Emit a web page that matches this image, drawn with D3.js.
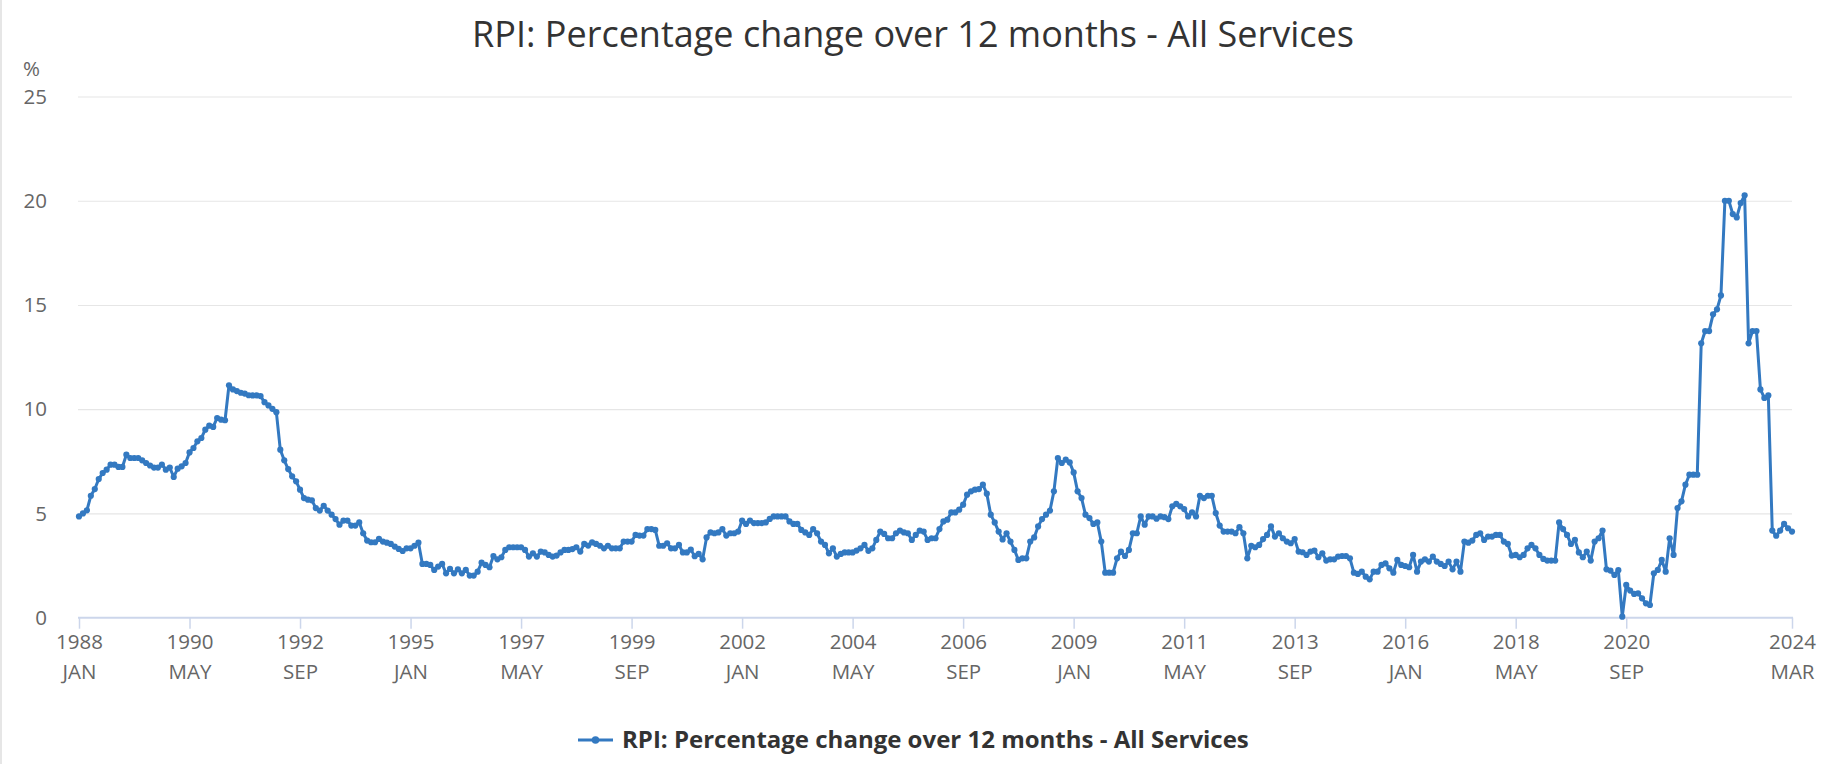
<!DOCTYPE html>
<html><head><meta charset="utf-8">
<script src="https://cdn.jsdelivr.net/npm/d3@7"></script>
<style>
html,body{margin:0;padding:0;background:#fff;}
svg{display:block;font-family:"Open Sans",sans-serif;}
</style></head>
<body>
<svg id="chart" width="1824" height="764"></svg>
<script>
// ---- data ----
const chartTitle = "RPI: Percentage change over 12 months - All Services";
const seriesName = "RPI: Percentage change over 12 months - All Services";
const startYear = 1988;
const monthNames = ["JAN","FEB","MAR","APR","MAY","JUN","JUL","AUG","SEP","OCT","NOV","DEC"];
const values = [
4.86,5.0,5.15,5.85,6.17,6.65,6.94,7.1,7.34,7.34,7.23,7.23,7.82,7.66,7.66,7.66,7.55,7.42,7.3,7.2,7.2,7.34,7.1,7.2,6.75,7.15,7.26,7.42,7.93,8.14,8.46,8.62,9.02,9.21,9.15,9.58,9.5,9.47,11.15,
10.95,10.87,10.79,10.75,10.67,10.66,10.66,10.63,10.34,10.18,10.02,9.86,8.06,7.55,7.13,6.78,6.54,6.14,5.74,5.66,5.63,5.26,5.14,5.37,5.14,4.94,4.73,4.46,4.66,4.66,4.42,4.42,4.57,4.05,3.7,3.62,3.62,3.78,3.65,
3.6,3.54,3.41,3.3,3.2,3.33,3.33,3.45,3.6,2.58,2.58,2.53,2.29,2.45,2.58,2.13,2.34,2.13,2.32,2.13,2.29,2.02,2.02,2.21,2.64,2.53,2.42,2.96,2.8,2.9,3.25,3.38,3.38,3.38,3.38,3.25,2.93,3.09,2.93,3.17,
3.13,3.01,2.93,2.98,3.13,3.25,3.25,3.29,3.38,3.17,3.54,3.46,3.61,3.54,3.45,3.33,3.45,3.33,3.33,3.33,3.65,3.65,3.65,3.97,3.94,3.94,4.25,4.25,4.21,3.45,3.45,3.57,3.33,3.33,3.49,3.13,3.13,3.27,2.95,
3.06,2.8,3.85,4.09,4.05,4.09,4.25,3.94,4.05,4.05,4.13,4.66,4.5,4.66,4.54,4.54,4.54,4.57,4.74,4.86,4.86,4.86,4.86,4.62,4.5,4.5,4.21,4.09,3.97,4.25,4.05,3.65,3.49,3.09,3.33,2.93,3.06,3.13,3.13,
3.13,3.22,3.33,3.49,3.21,3.33,3.73,4.13,4.02,3.81,3.81,4.05,4.18,4.09,4.05,3.73,3.97,4.18,4.13,3.73,3.81,3.81,4.25,4.62,4.7,5.05,5.05,5.18,5.42,5.9,6.06,6.14,6.17,6.38,5.95,4.94,4.57,4.13,3.75,
4.05,3.65,3.25,2.77,2.85,2.85,3.65,3.85,4.38,4.73,4.94,5.14,6.06,7.66,7.42,7.58,7.45,6.97,6.06,5.74,4.94,4.78,4.5,4.57,3.65,2.16,2.16,2.16,2.85,3.17,2.96,3.25,4.05,4.05,4.86,4.46,4.86,4.86,4.75,4.86,
4.82,4.73,5.34,5.46,5.34,5.21,4.86,5.05,4.86,5.85,5.74,5.85,5.85,5.02,4.42,4.13,4.13,4.13,4.05,4.34,4.05,2.85,3.45,3.38,3.49,3.77,3.97,4.38,3.89,4.05,3.81,3.65,3.57,3.77,3.17,3.14,3.01,3.17,3.22,
2.9,3.09,2.74,2.8,2.8,2.93,2.96,2.96,2.85,2.16,2.1,2.21,1.97,1.84,2.21,2.21,2.53,2.61,2.37,2.16,2.77,2.53,2.48,2.42,3.01,2.21,2.69,2.8,2.69,2.93,2.69,2.58,2.48,2.69,2.32,2.69,2.21,3.65,3.6,
3.7,3.97,4.05,3.73,3.89,3.89,3.97,3.97,3.65,3.54,2.98,3.01,2.9,3.01,3.33,3.49,3.33,3.01,2.82,2.74,2.74,2.74,4.57,4.25,3.97,3.54,3.73,3.13,2.9,3.17,2.74,3.65,3.81,4.18,2.32,2.26,2.05,2.28,0.05,
1.57,1.3,1.14,1.17,0.93,0.69,0.61,2.13,2.29,2.77,2.21,3.81,3.01,5.26,5.58,6.38,6.86,6.86,6.86,13.16,13.75,13.75,14.55,14.79,15.46,20.0,20.0,19.36,19.2,19.89,20.26,13.16,13.75,13.75,10.95,10.54,10.66,4.18,3.93,4.18,4.5,4.29,4.13
];
const xTickLabels = ["1988 JAN","1990 MAY","1992 SEP","1995 JAN","1997 MAY","1999 SEP","2002 JAN","2004 MAY","2006 SEP","2009 JAN","2011 MAY","2013 SEP","2016 JAN","2018 MAY","2020 SEP","2024 MAR"];
const yTicks = [0,5,10,15,20,25];
const yUnit = "%";

// categories (one per month)
const categories = values.map((v,i)=> (startYear + Math.floor(i/12)) + " " + monthNames[i%12]);

// ---- layout ----
const W = 1824, H = 764;
const plot = {left:79, right:1792, top:96.5, bottom:617.7};
const svg = d3.select("#chart");

const x = d3.scalePoint().domain(categories).range([plot.left, plot.right]);
const y = d3.scaleLinear().domain([0,25]).range([plot.bottom, plot.top]);

// left border
svg.append("rect").attr("x",0).attr("y",0).attr("width",2).attr("height",H).attr("fill","#e6e6e6");

// title
svg.append("text").attr("x",W/2+1).attr("y",47).attr("text-anchor","middle")
  .attr("font-size",36).attr("fill","#333").text(chartTitle);

// gridlines
const yAxis = d3.axisLeft(y).tickValues(yTicks).tickSize(-(plot.right-plot.left+1)).tickPadding(31);
const gy = svg.append("g").attr("transform",`translate(${plot.left-1},0)`).call(yAxis);
gy.select(".domain").remove();
gy.selectAll(".tick line").attr("stroke","#e6e6e6").attr("stroke-width",1.2)
  .filter(d=>d===0).remove();
gy.selectAll(".tick text").attr("font-size",20.5).attr("fill","#666").attr("font-family","Open Sans");

svg.append("text").attr("x",23).attr("y",76).attr("font-size",20.5).attr("fill","#666").text(yUnit);

// x axis
const xAxis = d3.axisBottom(x).tickValues(xTickLabels).tickSize(11).tickFormat(()=> "");
const gx = svg.append("g").attr("transform",`translate(0,${plot.bottom})`).call(xAxis);
gx.select(".domain").attr("stroke","#ccd6eb").attr("stroke-width",2).attr("d",`M${plot.left-1},0H${plot.right+1}`);
gx.selectAll(".tick line").attr("stroke","#ccd6eb").attr("stroke-width",1.5);
gx.selectAll(".tick").each(function(d){
  const parts = d.split(" ");
  const t = d3.select(this).append("text").attr("fill","#666").attr("font-size",20.5)
    .attr("text-anchor","middle").attr("font-family","Open Sans");
  t.append("tspan").attr("x",0).attr("y",31).text(parts[0]);
  t.append("tspan").attr("x",0).attr("y",61).text(parts[1]);
});

// line
const color = "#3379c1";
const line = d3.line().x((d,i)=>x(categories[i])).y(d=>y(d));
svg.append("path").datum(values).attr("d",line).attr("fill","none")
  .attr("stroke",color).attr("stroke-width",3).attr("stroke-linejoin","round");
svg.append("g").selectAll("circle").data(values).join("circle")
  .attr("cx",(d,i)=>x(categories[i])).attr("cy",d=>y(d)).attr("r",3.1).attr("fill",color);

// legend
const lg = svg.append("g").attr("transform","translate(578,740)");
lg.append("line").attr("x1",0).attr("x2",35).attr("y1",0).attr("y2",0).attr("stroke",color).attr("stroke-width",3);
lg.append("circle").attr("cx",17.5).attr("cy",0).attr("r",3.8).attr("fill",color);
lg.append("text").attr("x",44).attr("y",0).attr("dy","0.35em").attr("font-size",24)
  .attr("font-weight","bold").attr("fill","#333").text(seriesName);
</script>
</body></html>
